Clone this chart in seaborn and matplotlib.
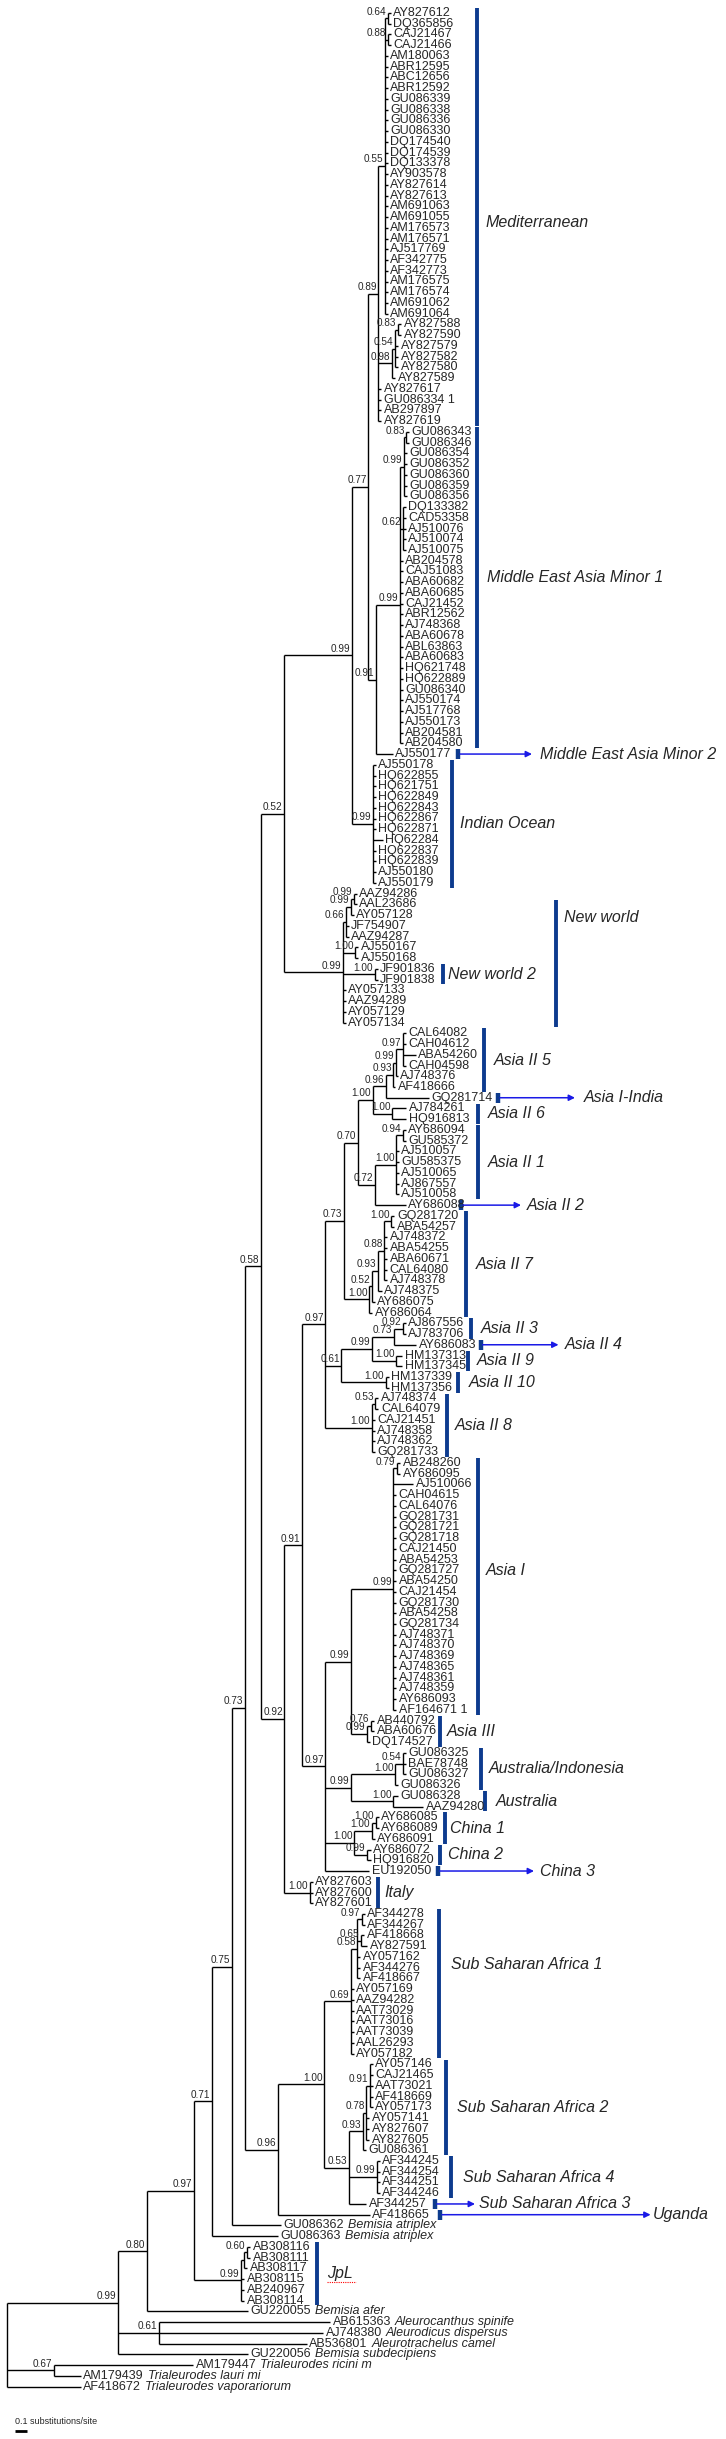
import numpy as np
import pandas as pd
import seaborn as sns
import matplotlib
matplotlib.use("Agg")
import matplotlib.pyplot as plt

# ---- leaves, top to bottom: (parent node, tip branch length, accessions) ----
mediterranean = [
    ("n064", 3, ["AY827612", "DQ365856"]),
    ("n088", 3, ["CAJ21467", "CAJ21466"]),
    ("n055", 3, ["AM180063", "ABR12595", "ABC12656", "ABR12592", "GU086339", "GU086338",
                 "GU086336", "GU086330", "DQ174540", "DQ174539", "DQ133378", "AY903578",
                 "AY827614", "AY827613", "AM691063", "AM691055", "AM176573", "AM176571",
                 "AJ517769", "AF342775", "AF342773", "AM176575", "AM176574", "AM691062",
                 "AM691064"]),
    ("n083", 3, ["AY827588", "AY827590"]),
    ("n054", 3, ["AY827579", "AY827582", "AY827580"]),
    ("n098", 3, ["AY827589"]),
    ("med", 3, ["AY827617", "GU086334 1", "AB297897", "AY827619"]),
]
meam = [
    ("n083b", 3, ["GU086343", "GU086346"]),
    ("n099c", 3, ["GU086354", "GU086352", "GU086360", "GU086359", "GU086356"]),
    ("n062", 3, ["DQ133382", "CAD53358", "AJ510076", "AJ510074", "AJ510075"]),
    ("meam1", 3, ["AB204578", "CAJ51083", "ABA60682", "ABA60685", "CAJ21452", "ABR12562",
                  "AJ748368", "ABA60678", "ABL63863", "ABA60683", "HQ621748", "HQ622889",
                  "GU086340", "AJ550174", "AJ517768", "AJ550173", "AB204581", "AB204580"]),
    ("meam", 17, ["AJ550177"]),
]
indian_ocean = [
    ("io", 3, ["AJ550178", "HQ622855", "HQ621751", "HQ622849", "HQ622843", "HQ622867", "HQ622871"]),
    ("io", 10, ["HQ62284"]),
    ("io", 3, ["HQ622837", "HQ622839", "AJ550180", "AJ550179"]),
]
new_world = [
    ("n099d", 3, ["AAZ94286", "AAL23686"]),
    ("n099e", 3, ["AY057128"]),
    ("n066", 3, ["JF754907", "AAZ94287"]),
    ("n100a", 3, ["AJ550167", "AJ550168"]),
    ("n100b", 3, ["JF901836", "JF901838"]),
    ("nw", 3, ["AY057133", "AAZ94289", "AY057129", "AY057134"]),
]
asia_ii = [
    ("n097c", 3, ["CAL64082", "CAH04612"]),
    ("n097c", 13, ["ABA54260"]),
    ("n097c", 3, ["CAH04598"]),
    ("n099f", 2, ["AJ748376"]),
    ("n093", 2, ["AF418666"]),
    ("n096b", 43, ["GQ281714"]),
    ("n100d", 14, ["AJ784261", "HQ916813"]),
    ("n094", 3, ["AY686094", "GU585372"]),
    ("n100e", 3, ["AJ510057", "GU585375", "AJ510065", "AJ867557", "AJ510058"]),
    ("n072", 31, ["AY686088"]),
    ("n100g", 3, ["GQ281720", "ABA54257"]),
    ("n088b", 3, ["AJ748372", "ABA54255", "ABA60671", "CAL64080", "AJ748378"]),
    ("n093b", 4, ["AJ748375"]),
    ("n052b", 3, ["AY686075"]),
    ("n100f", 3, ["AY686064"]),
    ("n092b", 3, ["AJ867556", "AJ783706"]),
    ("n073c", 22, ["AY686083"]),
    ("n100h", 6, ["HM137313", "HM137345"]),
    ("n100i", 3, ["HM137339", "HM137356"]),
    ("n053", 3, ["AJ748374", "CAL64079"]),
    ("n100j", 3, ["CAJ21451", "AJ748358", "AJ748362", "GQ281733"]),
]
asia_i = [
    ("n079", 3, ["AB248260", "AY686095"]),
    ("n099i", 20, ["AJ510066"]),
    ("n099i", 3, ["CAH04615", "CAL64076", "GQ281731", "GQ281721", "GQ281718", "CAJ21450",
                  "ABA54253", "GQ281727", "ABA54250", "CAJ21454", "GQ281730", "ABA54258",
                  "GQ281734", "AJ748371", "AJ748370", "AJ748369", "AJ748365", "AJ748361",
                  "AJ748359", "AY686093", "AF164671 1"]),
    ("n076", 3, ["AB440792", "ABA60676"]),
    ("n099j", 3, ["DQ174527"]),
    ("n054b", 3, ["GU086325", "BAE78748", "GU086327"]),
    ("n100k", 3, ["GU086326"]),
    ("n100l", 5, ["GU086328"]),
    ("n100l", 30, ["AAZ94280"]),
    ("n100o", 3, ["AY686085", "AY686089"]),
    ("n100n", 3, ["AY686091"]),
    ("n099l", 4, ["AY686072", "HQ916820"]),
    ("n097d", 44, ["EU192050"]),
    ("n100p", 3, ["AY827603", "AY827600", "AY827601"]),
]
africa = [
    ("n097e", 3, ["AF344278", "AF344267"]),
    ("n065", 3, ["AF418668"]),
    ("n065", 6, ["AY827591"]),
    ("n058b", 3, ["AY057162", "AF344276", "AF418667"]),
    ("ssa1", 3, ["AY057169", "AAZ94282", "AAT73029", "AAT73016", "AAT73039", "AAL26293", "AY057182"]),
    ("n091b", 3, ["AY057146", "CAJ21465", "AAT73021", "AF418669", "AY057173"]),
    ("n078", 3, ["AY057141", "AY827607", "AY827605"]),
    ("n093c", 3, ["GU086361"]),
    ("n099m", 3, ["AF344245", "AF344254", "AF344251", "AF344246"]),
    ("n053b", 17, ["AF344257"]),
    ("n096", 92, ["AF418665"]),
]
outgroups = [
    ("n075", 49, ["GU086362"]),
    ("n071", 66, ["GU086363"]),
    ("n060", 3, ["AB308116", "AB308111"]),
    ("n060a", 3, ["AB308117"]),
    ("jpl", 3, ["AB308115", "AB240967", "AB308114"]),
    ("n080", 101, ["GU220055"]),
    ("n061", 171, ["AB615363"]),
    ("n061", 164, ["AJ748380"]),
    ("n061", 147.6, ["AB536801"]),
    ("n099a", 130, ["GU220056"]),
    ("n067", 139, ["AM179447"]),
    ("n067", 26.5, ["AM179439"]),
    ("root", 73.5, ["AF418672"]),
]
species = {
    "GU086362": "Bemisia atriplex", "GU086363": "Bemisia atriplex",
    "GU220055": "Bemisia afer", "AB615363": "Aleurocanthus spinife",
    "AJ748380": "Aleurodicus dispersus", "AB536801": "Aleurotrachelus camel",
    "GU220056": "Bemisia subdecipiens", "AM179447": "Trialeurodes ricini m",
    "AM179439": "Trialeurodes lauri mi", "AF418672": "Trialeurodes vaporariorum",
}

# ---- internal nodes: (id, parent, depth, posterior support) ----
backbone_nodes = [
    ("root", None, 7, ""), ("n099a", "root", 118, "0.99"), ("n067", "root", 54, "0.67"),
    ("n080", "n099a", 147, "0.80"), ("n061", "n099a", 159, "0.61"),
    ("n097b", "n080", 193.6, "0.97"), ("n071", "n097b", 212, "0.71"),
    ("n075", "n071", 231.7, "0.75"), ("n073a", "n075", 244.7, "0.73"),
    ("n058", "n073a", 260.7, "0.58"), ("n052", "n058", 283.7, "0.52"),
    ("n092", "n058", 284.4, "0.92"), ("n091", "n092", 301.5, "0.91"),
    ("jpl", "n097b", 241, "0.99"), ("n060a", "jpl", 244.3, ""), ("n060", "n060a", 247, "0.60"),
]
west_nodes = [
    ("n099b", "n052", 351.7, "0.99"), ("n077", "n099b", 368.4, "0.77"),
    ("med", "n077", 378.4, "0.89"), ("n055", "med", 384.7, "0.55"),
    ("n064", "n055", 387.7, "0.64"), ("n088", "n055", 387.7, "0.88"),
    ("n098", "med", 392, "0.98"), ("n054", "n098", 395, "0.54"), ("n083", "n054", 398, "0.83"),
    ("meam", "n077", 375.8, "0.91"), ("meam1", "meam", 399.6, "0.99"),
    ("n099c", "meam1", 403.7, "0.99"), ("n083b", "n099c", 406.3, "0.83"),
    ("n062", "meam1", 402.5, "0.62"), ("io", "n099b", 372.8, "0.99"),
    ("nw", "n052", 342.5, "0.99"), ("n066", "nw", 345.7, "0.66"),
    ("n099e", "n066", 350.6, "0.99"), ("n099d", "n099e", 353.5, "0.99"),
    ("n100a", "nw", 355.4, "1.00"), ("n100b", "nw", 374.7, "1.00"),
]
asia_nodes = [
    ("asia2", "n091", 325.3, "0.97"), ("n073b", "asia2", 343.9, "0.73"),
    ("n070", "n073b", 358, "0.70"), ("n100c", "n070", 372.8, "1.00"),
    ("n096b", "n100c", 385.8, "0.96"), ("n093", "n096b", 393.3, "0.93"),
    ("n099f", "n093", 395.9, "0.99"), ("n097c", "n099f", 402.6, "0.97"),
    ("n100d", "n100c", 392.2, "1.00"), ("n072", "n070", 374.7, "0.72"),
    ("n100e", "n072", 395.9, "1.00"), ("n094", "n100e", 402.6, "0.94"),
    ("n100f", "n073b", 369.1, "1.00"), ("n052b", "n100f", 371.7, "0.52"),
    ("n093b", "n052b", 377.7, "0.93"), ("n088b", "n093b", 384, "0.88"),
    ("n100g", "n088b", 391.4, "1.00"), ("n061b", "asia2", 341.3, "0.61"),
    ("n099g", "n061b", 371.7, "0.99"), ("n073c", "n099g", 394, "0.73"),
    ("n092b", "n073c", 402.6, "0.92"), ("n100h", "n099g", 396.2, "1.00"),
    ("n100i", "n061b", 385.8, "1.00"), ("n100j", "asia2", 371.7, "1.00"),
    ("n053", "n100j", 375.4, "0.53"),
    ("n097d", "n091", 325.3, "0.97"), ("n099h", "n097d", 350.6, "0.99"),
    ("n099i", "n099h", 393.3, "0.99"), ("n079", "n099i", 397, "0.79"),
    ("n099j", "n099h", 366.5, "0.99"), ("n076", "n099j", 371, "0.76"),
    ("n099k", "n097d", 350.6, "0.99"), ("n100k", "n099k", 395.1, "1.00"),
    ("n054b", "n100k", 402.6, "0.54"), ("n100l", "n099k", 393.3, "1.00"),
    ("n100m", "n097d", 354.3, "1.00"), ("n100n", "n100m", 371.7, "1.00"),
    ("n100o", "n100n", 375.8, "1.00"), ("n099l", "n100m", 366.5, "0.99"),
    ("n100p", "n092", 309.7, "1.00"),
]
africa_nodes = [
    ("n096", "n073a", 277.6, "0.96"), ("ssa", "n096", 324, "1.00"),
    ("ssa1", "ssa", 350.6, "0.69"), ("n058b", "ssa1", 357.2, "0.58"),
    ("n097e", "n058b", 361.7, "0.97"), ("n065", "n058b", 361, "0.65"),
    ("n053b", "ssa", 349, "0.53"), ("n093c", "n053b", 363, "0.93"),
    ("n078", "n093c", 366.4, "0.78"), ("n091b", "n078", 369.6, "0.91"),
    ("n099m", "n053b", 376.5, "0.99"),
]

# ---- clade annotations: (label, first leaf, last leaf, bar x, text x, arrow end, text shift) ----
clade_bars = [
    ("Mediterranean", "AY827612", "AY827619", 477, 486, None, 0.5),
    ("Middle East Asia Minor 1", "GU086343", "AB204580", 477, 487, None, -0.9),
    ("Middle East Asia Minor 2", "AJ550177", "AJ550177", 458, 540, 532, 0),
    ("Indian Ocean", "AJ550178", "AJ550179", 451.6, 460, None, 0),
    ("New world", "AAL23686", "AY057134", 555.6, 564, None, -4.3),
    ("New world 2", "JF901836", "JF901838", 443.4, 448, None, 0),
    ("Asia II 5", "CAL64082", "AF418666", 484, 493.5, None, 0),
    ("Asia I-India", "GQ281714", "GQ281714", 498, 584, 575, 0),
    ("Asia II 6", "AJ784261", "HQ916813", 477.6, 488, None, 0),
    ("Asia II 1", "AY686094", "AJ510058", 477.6, 488, None, 0),
    ("Asia II 2", "AY686088", "AY686088", 461, 527, 521, 0),
    ("Asia II 7", "GQ281720", "AY686064", 465.7, 476, None, 0),
    ("Asia II 3", "AJ867556", "AJ783706", 471, 480.5, None, 0),
    ("Asia II 4", "AY686083", "AY686083", 480.5, 565, 558.5, 0),
    ("Asia II 9", "HM137313", "HM137345", 467.5, 477, None, 0),
    ("Asia II 10", "HM137339", "HM137356", 458, 468.7, None, 0),
    ("Asia II 8", "AJ748374", "GQ281733", 447, 455, None, 0),
    ("Asia I", "AB248260", "AF164671 1", 477.6, 486, None, -1.5),
    ("Asia III", "AB440792", "DQ174527", 439.7, 447, None, 0),
    ("Australia/Indonesia", "GU086325", "GU086326", 481, 488.7, None, 0),
    ("Australia", "GU086328", "AAZ94280", 485, 495.4, None, 0),
    ("China 1", "AY686085", "AY686091", 445, 450, None, 0),
    ("China 2", "AY686072", "HQ916820", 439.7, 448, None, 0),
    ("China 3", "EU192050", "EU192050", 437.8, 540, 534, 0),
    ("Italy", "AY827603", "AY827601", 377.7, 384, None, 0),
    ("Sub Saharan Africa 1", "AF344278", "AY057182", 439, 451, None, -1.8),
    ("Sub Saharan Africa 2", "AY057146", "GU086361", 446, 457, None, 0),
    ("Sub Saharan Africa 4", "AF344245", "AF344246", 451, 463, None, 0),
    ("Sub Saharan Africa 3", "AF344257", "AF344257", 435, 479, 475, 0),
    ("Uganda", "AF418665", "AF418665", 440, 653, 650.6, 0),
    ("JpL", "AB308116", "AB308114", 317, 327, None, 0),
]

# ---- build tables ----
leaf_groups = mediterranean + meam + indian_ocean + new_world + asia_ii + asia_i + africa + outgroups
rows = [(n, p, b) for p, b, names in leaf_groups for n in names]
leaves = pd.DataFrame(rows, columns=["name", "parent", "blen"])
leaves["y"] = np.arange(len(leaves), dtype=float)

nodes = pd.DataFrame(backbone_nodes + west_nodes + asia_nodes + africa_nodes,
                     columns=["id", "parent", "x", "support"]).set_index("id")
leaves["px"] = leaves["parent"].map(nodes["x"])
leaves["x"] = leaves["px"] + leaves["blen"]

kids = {nid: [] for nid in nodes.index}
for nid, r in nodes.iterrows():
    if r.parent is not None:
        kids[r.parent].append(nid)
leaf_ys = leaves.groupby("parent")["y"].apply(list).to_dict()

node_y = {}
node_span = {}


def get_y(nid):
    if nid not in node_y:
        ys = [get_y(k) for k in kids[nid]] + leaf_ys.get(nid, [])
        node_span[nid] = (min(ys), max(ys))
        node_y[nid] = (min(ys) + max(ys)) / 2
    return node_y[nid]


get_y("root")
nodes["y"] = pd.Series(node_y)

# pixel helpers (leaf rows are 10.74 px apart, first row at 13 px)
PX0, DY = 13, 10.74


def to_y(px):
    return (px - PX0) / DY


sns.set_theme(style="white")
plt.rcParams['font.family'] = ['Liberation Sans', 'DejaVu Sans']

fig = plt.figure(figsize=(7.26, 24.39), dpi=100)
ax = fig.add_axes([0, 0, 1, 1])
ax.set_xlim(0, 726)
ax.set_ylim(to_y(2439), to_y(0))
ax.axis("off")

lw = 1.0
# verticals and internal branches
for nid, r in nodes.iterrows():
    lo, hi = node_span[nid]
    ax.vlines(r.x, lo, hi, color="black", lw=lw)
    if r.parent is not None:
        ax.hlines(r.y, nodes.loc[r.parent, "x"], r.x, color="black", lw=lw)
    if r.support:
        ax.text(r.x - 1.5, r.y - 0.15, r.support, ha="right", va="bottom", fontsize=7.2)

# leaf branches and labels
for _, r in leaves.iterrows():
    ax.hlines(r.y, r.px, r.x, color="black", lw=lw)
    t = ax.text(r.x + 2.5, r.y, r["name"], ha="left", va="center", fontsize=9)
    if r["name"] in species:
        ax.annotate(species[r["name"]], xy=(1, 0), xycoords=t, xytext=(3, 0),
                    textcoords="offset points", ha="left", va="bottom",
                    fontsize=9, style="italic")

# clade bars, labels and arrows
navy = "#0d3b8e"
arrow_blue = "#1a1ae6"
yidx = dict(zip(leaves["name"], leaves["y"]))
for label, first, last, bx, tx, arrow_end, dy in clade_bars:
    y0, y1 = yidx[first], yidx[last]
    single = arrow_end is not None
    ax.vlines(bx, y0 - 0.45, y1 + 0.45, color=navy, lw=3.2 if single else 2.8)
    if single:
        ax.annotate("", xy=(arrow_end, y0), xytext=(bx + 2, y0),
                    arrowprops=dict(arrowstyle="-|>", color=arrow_blue, lw=1.1,
                                    mutation_scale=9, shrinkA=0, shrinkB=0))
    ax.text(tx, (y0 + y1) / 2 + dy, label, ha="left", va="center",
            fontsize=11.5, style="italic")
    if label == "JpL":
        ax.plot([tx, tx + 29], [(y0 + y1) / 2 + dy + 0.75] * 2, color="red",
                lw=0.8, ls=(0, (1, 1)))

# scale bar
ax.text(15, to_y(2421), "0.1 substitutions/site", ha="left", va="center", fontsize=6.5)
ax.hlines(to_y(2431), 15, 27, color="black", lw=2)

fig.savefig("out.png", dpi=100)
